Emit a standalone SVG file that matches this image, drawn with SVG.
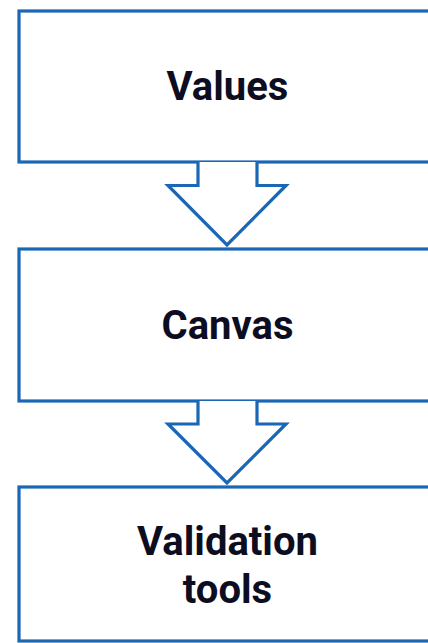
<svg xmlns="http://www.w3.org/2000/svg" width="428" height="643" viewBox="0 0 428 643">
  <style>
    .box { fill: #ffffff; stroke: #1a67b5; stroke-width: 3.2; }
    .arrow { fill: #ffffff; stroke: #1a67b5; stroke-width: 3.2; stroke-linejoin: miter; }
    .label { font-family: Roboto, "Liberation Sans", sans-serif; font-weight: 700; font-size: 40px; fill: #0d0d22; text-anchor: middle; }
  </style>
  <rect width="428" height="643" fill="#ffffff"/>
  <g id="node-values">
    <rect class="box" x="19" y="11" width="417" height="151"/>
    <text class="label" x="227.5" y="100">Values</text>
  </g>
  <g id="node-canvas">
    <rect class="box" x="19" y="249" width="417" height="152"/>
    <text class="label" x="227.5" y="338.5">Canvas</text>
  </g>
  <g id="node-validation">
    <rect class="box" x="19" y="487" width="417" height="154"/>
    <text class="label" x="227.5" y="555">Validation</text>
    <text class="label" x="227.5" y="603">tools</text>
  </g>
  <g id="connectors">
    <path class="arrow" d="M198 162 V185.5 H168 L227 245 L286 185.5 H257 V162"/>
    <path class="arrow" d="M198 401 V424 H168 L227 483 L286 424 H257 V401"/>
  </g>
</svg>
